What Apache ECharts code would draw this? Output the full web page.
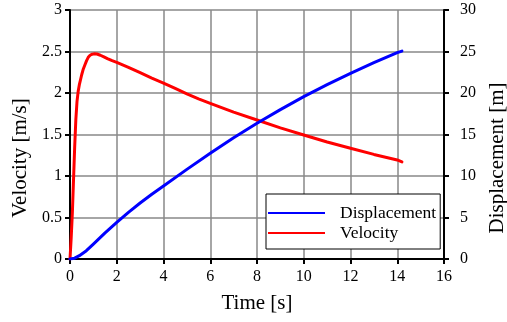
<!DOCTYPE html>
<html>
<head>
<meta charset="utf-8">
<script src="https://cdn.jsdelivr.net/npm/echarts@6/dist/echarts.min.js"></script>
<style>
html,body{margin:0;padding:0;background:#fff;}
#chart{width:507px;height:322px;}
</style>
</head>
<body>
<div id="chart"></div>
<script>
// Velocity [m/s] vs time [s]
var velTime = [0, 0.05, 0.1, 0.15, 0.2, 0.25, 0.3, 0.35, 0.4, 0.45, 0.5, 0.57, 0.64, 0.71, 0.78, 0.86, 0.95, 1.05, 1.15, 1.3, 1.45, 1.6, 1.8, 2.0, 2.5, 3, 3.5, 4, 4.5, 5, 5.5, 6, 7, 8, 9, 10, 11, 12, 13, 14, 14.2];
var velValues = [0, 0.25, 0.55, 0.95, 1.35, 1.68, 1.9, 2.02, 2.1, 2.16, 2.22, 2.29, 2.34, 2.39, 2.43, 2.455, 2.468, 2.472, 2.47, 2.455, 2.435, 2.415, 2.39, 2.37, 2.31, 2.245, 2.18, 2.12, 2.055, 1.99, 1.93, 1.876, 1.77, 1.675, 1.58, 1.494, 1.41, 1.334, 1.26, 1.193, 1.17];
// Displacement [m] vs time [s]
var dispTime = [0, 0.2, 0.4, 0.7, 1.0, 1.5, 2, 2.5, 3, 3.5, 4, 5, 6, 7, 8, 9, 10, 11, 12, 13, 14, 14.2];
var dispValues = [0, 0.1, 0.4, 1.0, 1.8, 3.15, 4.42, 5.62, 6.75, 7.8, 8.8, 10.8, 12.73, 14.6, 16.35, 18.0, 19.56, 21.0, 22.37, 23.65, 24.86, 25.05];

var xTicks = {min: 0, max: 16, interval: 2};
var velTicks = {min: 0, max: 3, interval: 0.5};
var dispTicks = {min: 0, max: 30, interval: 5};
var seriesNames = ['Displacement', 'Velocity'];

function pairs(xs, ys) { return xs.map(function (x, i) { return [x, ys[i]]; }); }

var font = 'Liberation Serif, Times New Roman, serif';
var axisLineStyle = {show: true, lineStyle: {color: '#000', width: 2}};
var tickStyle = {show: true, inside: false, length: 5, lineStyle: {color: '#000', width: 2}};
var splitStyle = {show: true, lineStyle: {color: '#888', width: 1.5}};

var chart = echarts.init(document.getElementById('chart'), null, {renderer: 'canvas'});
chart.setOption({
  animation: false,
  backgroundColor: '#fff',
  grid: {left: 70, right: 63, top: 10, bottom: 63, containLabel: false, outerBoundsMode: 'none'},
  legend: {
    data: seriesNames,
    orient: 'vertical',
    left: 266, top: 194,
    padding: [10, 4, 7, 2],
    itemGap: 2,
    icon: 'rect',
    itemWidth: 57, itemHeight: 2,
    backgroundColor: '#fff',
    borderColor: '#000', borderWidth: 1,
    textStyle: {fontFamily: font, fontSize: 17.5, color: '#000', padding: [0, 0, 0, 10]}
  },
  xAxis: {
    type: 'value', min: xTicks.min, max: xTicks.max, interval: xTicks.interval,
    name: 'Time [s]', nameLocation: 'middle', nameGap: 34,
    nameTextStyle: {fontFamily: font, fontSize: 21, color: '#000'},
    axisLine: axisLineStyle, axisTick: tickStyle, splitLine: splitStyle,
    axisLabel: {fontFamily: font, fontSize: 16, color: '#000', margin: 10}
  },
  yAxis: [{
    type: 'value', min: velTicks.min, max: velTicks.max, interval: velTicks.interval,
    name: 'Velocity [m/s]', nameLocation: 'middle', nameGap: 37,
    nameTextStyle: {fontFamily: font, fontSize: 21, color: '#000', padding: [0, 47, 0, 0]},
    axisLine: axisLineStyle, axisTick: tickStyle, splitLine: splitStyle,
    axisLabel: {fontFamily: font, fontSize: 16, color: '#000', margin: 8}
  }, {
    type: 'value', position: 'right', min: dispTicks.min, max: dispTicks.max, interval: dispTicks.interval,
    name: 'Displacement [m]', nameLocation: 'middle', nameGap: 39,
    nameTextStyle: {fontFamily: font, fontSize: 21, color: '#000', padding: [0, 47, 0, 0]},
    axisLine: axisLineStyle, axisTick: tickStyle, splitLine: {show: false},
    axisLabel: {fontFamily: font, fontSize: 16, color: '#000', margin: 16}
  }],
  series: [{
    name: 'Velocity', type: 'line', yAxisIndex: 0,
    data: pairs(velTime, velValues),
    smooth: false, showSymbol: false,
    lineStyle: {color: '#ff0000', width: 3, join: 'round', cap: 'round'}, itemStyle: {color: '#ff0000'}
  }, {
    name: 'Displacement', type: 'line', yAxisIndex: 1,
    data: pairs(dispTime, dispValues),
    smooth: false, showSymbol: false,
    lineStyle: {color: '#0000ff', width: 3, join: 'round', cap: 'round'}, itemStyle: {color: '#0000ff'}
  }]
});
</script>
</body>
</html>
